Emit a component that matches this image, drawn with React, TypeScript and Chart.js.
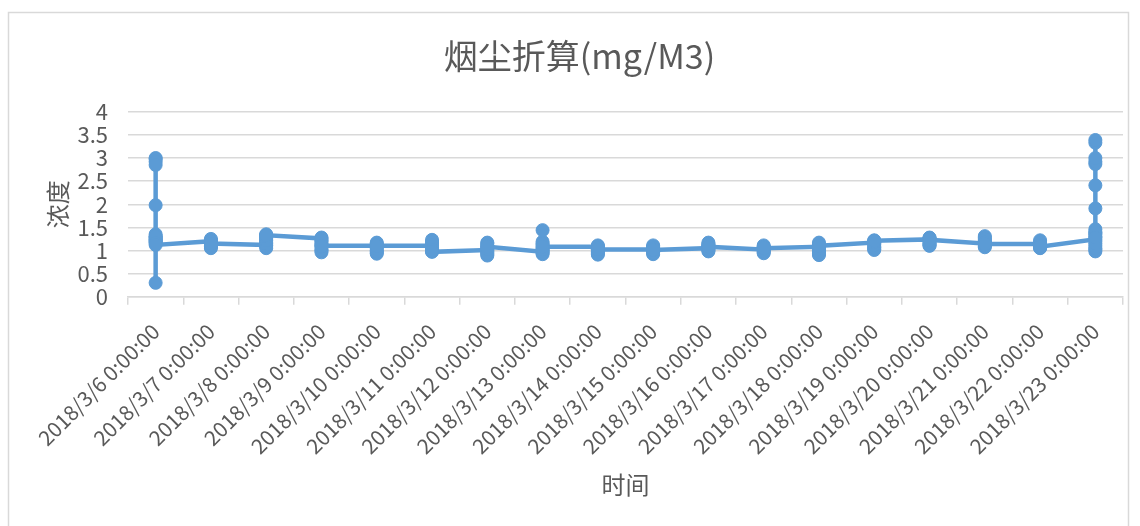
import React, { useEffect, useRef } from "react";
import { Chart, registerables } from "chart.js";

Chart.register(...registerables);

const categories = [
  "2018/3/6 0:00:00", "2018/3/7 0:00:00", "2018/3/8 0:00:00", "2018/3/9 0:00:00",
  "2018/3/10 0:00:00", "2018/3/11 0:00:00", "2018/3/12 0:00:00", "2018/3/13 0:00:00",
  "2018/3/14 0:00:00", "2018/3/15 0:00:00", "2018/3/16 0:00:00", "2018/3/17 0:00:00",
  "2018/3/18 0:00:00", "2018/3/19 0:00:00", "2018/3/20 0:00:00", "2018/3/21 0:00:00",
  "2018/3/22 0:00:00", "2018/3/23 0:00:00",
];

const d0306 = [1.25, 1.3, 1.35, 1.22, 2.98, 3.0, 2.92, 2.85, 1.98, 1.28, 0.3, 1.2, 1.18, 1.24, 1.3, 1.16, 1.12];
const d0307 = [1.2, 1.22, 1.25, 1.18, 1.1, 1.05, 1.08, 1.12, 1.16, 1.2, 1.15];
const d0308 = [1.12, 1.18, 1.25, 1.32, 1.35, 1.28, 1.1, 1.05, 1.15, 1.22, 1.3, 1.33];
const d0309 = [1.26, 1.28, 1.2, 1.12, 1.02, 0.96, 1.0, 1.08, 1.15, 1.22, 1.1];
const d0310 = [1.1, 1.15, 1.17, 1.08, 1.0, 0.95, 0.93, 0.98, 1.04, 1.12, 1.1];
const d0311 = [1.1, 1.16, 1.23, 1.18, 1.06, 1.0, 0.98, 1.04, 1.12, 1.02, 0.97];
const d0312 = [1.01, 1.08, 1.15, 1.17, 1.1, 0.98, 0.92, 0.89, 0.95, 1.03, 1.08];
const d0313 = [0.97, 1.05, 1.12, 1.19, 1.44, 1.15, 1.0, 0.92, 0.95, 1.02, 1.08];
const d0314 = [1.08, 1.11, 1.06, 0.98, 0.93, 0.91, 0.96, 1.02, 1.09, 1.05, 1.02];
const d0315 = [1.02, 1.08, 1.11, 1.05, 0.97, 0.92, 0.95, 1.0, 1.06, 1.03, 1.01];
const d0316 = [1.05, 1.1, 1.17, 1.14, 1.06, 1.0, 0.98, 1.03, 1.09, 1.12, 1.08];
const d0317 = [1.02, 1.06, 1.11, 1.08, 1.0, 0.96, 0.94, 0.99, 1.04, 1.07, 1.05];
const d0318 = [1.08, 1.13, 1.17, 1.1, 1.0, 0.93, 0.9, 0.97, 1.04, 1.12, 1.1];
const d0319 = [1.17, 1.2, 1.22, 1.15, 1.08, 1.03, 1.01, 1.06, 1.12, 1.18, 1.21];
const d0320 = [1.24, 1.27, 1.28, 1.22, 1.15, 1.11, 1.1, 1.14, 1.19, 1.25, 1.23];
const d0321 = [1.15, 1.22, 1.28, 1.31, 1.25, 1.16, 1.09, 1.07, 1.12, 1.18, 1.14];
const d0322 = [1.14, 1.18, 1.22, 1.16, 1.1, 1.06, 1.05, 1.09, 1.13, 1.11, 1.08];
const d0323 = [1.24, 1.3, 1.38, 1.46, 1.35, 1.2, 1.1, 1.02, 0.98, 1.05, 1.15, 1.91, 2.41, 2.87, 2.92, 3.0, 3.33, 3.39, 1.4, 1.28];

const dailyValues = [
  d0306, d0307, d0308, d0309, d0310, d0311, d0312, d0313, d0314,
  d0315, d0316, d0317, d0318, d0319, d0320, d0321, d0322, d0323,
];

const FONT = "'Noto Sans CJK SC', 'Noto Sans', sans-serif";
const TEXT = "#595959";
const GRID = "#d9d9d9";
const BLUE = "#5B9BD5";

const borderPlugin = {
  id: "outerBorder",
  beforeDraw(chart: any) {
    const ctx = chart.ctx;
    ctx.save();
    ctx.fillStyle = "#ffffff";
    ctx.fillRect(0, 0, chart.width, chart.height);
    ctx.strokeStyle = GRID;
    ctx.lineWidth = 1.5;
    ctx.strokeRect(8.5, 12.5, 1120, 530);
    ctx.restore();
  },
};

export default function App() {
  const ref = useRef<HTMLCanvasElement | null>(null);

  useEffect(() => {
    if (!ref.current) return;
    const points = dailyValues.flatMap((vals, i) =>
      vals.map((v) => ({ x: categories[i], y: v }))
    );
    const chart = new Chart(ref.current, {
      type: "line",
      data: {
        labels: categories,
        datasets: [
          {
            label: "烟尘折算",
            data: points as any,
            borderColor: BLUE,
            backgroundColor: BLUE,
            borderWidth: 4.5,
            pointRadius: 6.5,
            pointBorderWidth: 1,
            pointBackgroundColor: BLUE,
            pointBorderColor: BLUE,
            tension: 0,
          },
        ],
      },
      plugins: [borderPlugin],
      options: {
        animation: false,
        responsive: false,
        layout: { padding: { left: 36, right: 17, top: 0, bottom: 0 } },
        plugins: {
          legend: { display: false },
          tooltip: { enabled: false },
          title: {
            display: true,
            text: "烟尘折算(mg/M3)",
            color: TEXT,
            font: { family: FONT, size: 34, weight: "normal" },
            padding: { top: 36, bottom: 35 },
          },
        },
        scales: {
          x: {
            type: "category",
            offset: true,
            grid: {
              display: true,
              offset: true,
              drawOnChartArea: false,
              drawTicks: true,
              tickLength: 8,
              color: GRID,
              lineWidth: 1.5,
            },
            border: { display: true, color: GRID, width: 1.5 },
            ticks: {
              autoSkip: false,
              maxRotation: 45,
              minRotation: 45,
              padding: 14,
              color: TEXT,
              font: { family: FONT, size: 21 },
            },
            title: {
              display: true,
              text: "时间",
              color: TEXT,
              font: { family: FONT, size: 24 },
              padding: { top: 0, bottom: 27 },
            },
            afterFit(scale: any) {
              scale.height = 229.3;
            },
          },
          y: {
            min: 0,
            max: 4,
            ticks: {
              stepSize: 0.5,
              autoSkip: false,
              padding: 20,
              color: TEXT,
              font: { family: FONT, size: 22 },
              callback: (v: any) => String(v),
            },
            grid: { color: GRID, lineWidth: 1.5, drawTicks: false },
            border: { display: false },
            title: {
              display: true,
              text: "浓度",
              color: TEXT,
              font: { family: FONT, size: 24 },
              padding: { top: 7, bottom: 0 },
            },
            afterFit(scale: any) {
              scale.width = 92;
            },
          },
        },
      },
    });
    return () => chart.destroy();
  }, []);

  return (
    <canvas
      ref={ref}
      width={1140}
      height={526}
      style={{ position: "absolute", left: 0, top: 0, display: "block" }}
    />
  );
}
